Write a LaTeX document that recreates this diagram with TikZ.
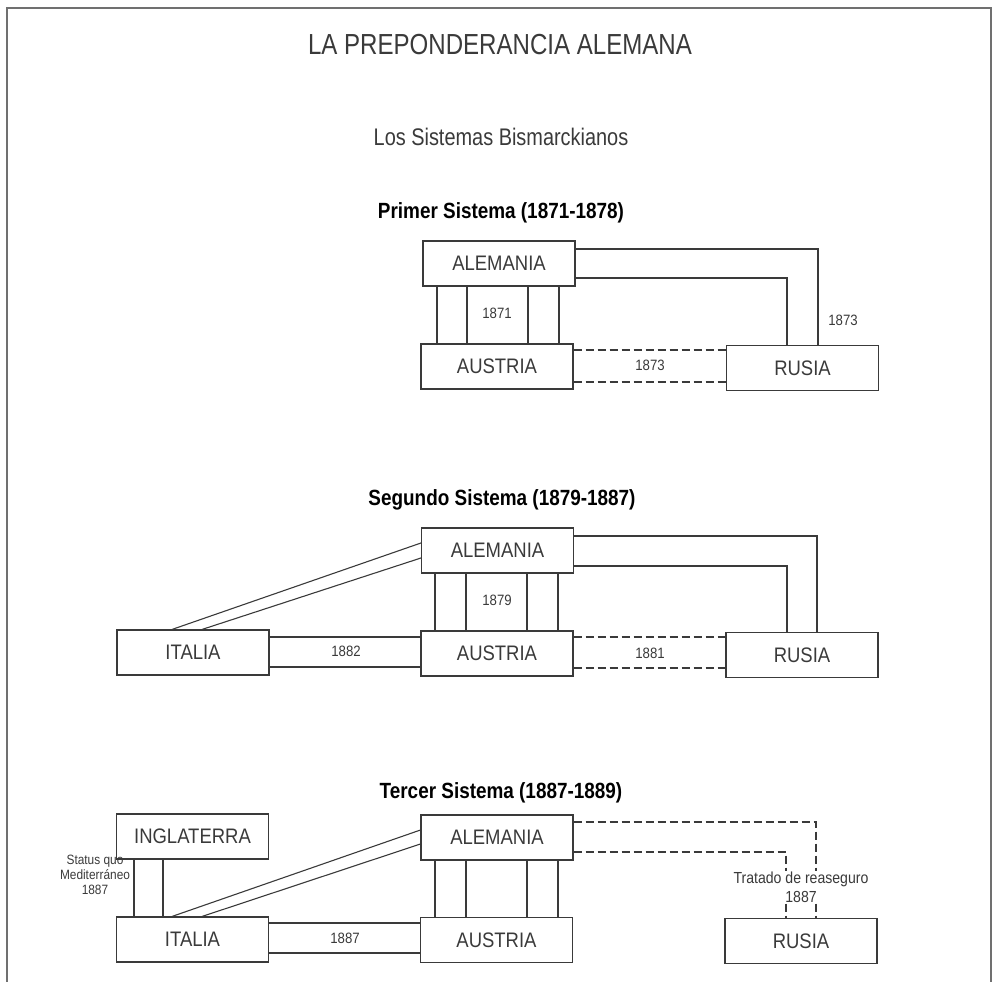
\documentclass[tikz,border=0pt]{standalone}
\usepackage{fontspec}
\setmainfont{Liberation Sans}[FakeStretch=0.86]
\newfontfamily\titlefont{Liberation Sans}[FakeStretch=0.83]
\newfontfamily\boxfont{Liberation Sans}[FakeStretch=0.88]
\definecolor{ink}{HTML}{3A3A3A}
\definecolor{framec}{HTML}{707070}
\begin{document}
\begin{tikzpicture}[x=1pt,y=-1pt,
  country/.style={draw=ink, line width=1.1pt, minimum width=152pt, minimum height=45pt, inner sep=0pt,
     text=ink, font=\boxfont\fontsize{21}{24}\selectfont},
  link/.style={draw=ink, line width=1.1pt},
  dlink/.style={draw=ink, line width=1.1pt, dash pattern=on 8pt off 4pt},
  yearlbl/.style={text=ink, inner sep=1pt, font=\boxfont\fontsize{15}{18}\selectfont},
  heading/.style={text=black, font=\bfseries\fontsize{22}{26}\selectfont}]
\useasboundingbox (0,0) rectangle (993,982);
% frame
\draw[framec, line width=1.6pt] (7,982) -- (7,8) -- (991,8) -- (991,982);
% titles
\node[text=ink, font=\titlefont\fontsize{29}{34}\selectfont] (title) at (500,45) {LA PREPONDERANCIA ALEMANA};
\node[text=ink, font=\titlefont\fontsize{24}{28}\selectfont] (subtitle) at (501,137) {Los Sistemas Bismarckianos};

% ---------- Primer sistema ----------
\node[heading] (h1) at (501,213) {Primer Sistema (1871-1878)};
\node[country] (al1) at (499,263.5) {ALEMANIA};
\node[country] (au1) at (497,366.5) {AUSTRIA};
\node[country] (ru1) at (802.5,368) {RUSIA};
\foreach \x in {437,467,528,559}
  \draw[link] (al1.south -| \x,0) -- (au1.north -| \x,0);
\node[yearlbl] (y1871) at (497,313) {1871};
\draw[link] (al1.east |- 0,249) -| (ru1.north -| 818,0);
\draw[link] (al1.east |- 0,278) -| (ru1.north -| 787,0);
\node[yearlbl] (y1873a) at (843,320) {1873};
\draw[dlink] (au1.east |- 0,350) -- (ru1.west |- 0,350);
\draw[dlink] (au1.east |- 0,382) -- (ru1.west |- 0,382);
\node[yearlbl] (y1873b) at (650,365) {1873};

% ---------- Segundo sistema ----------
\node[heading] (h2) at (502,500) {Segundo Sistema (1879-1887)};
\node[country] (al2) at (497.5,550.5) {ALEMANIA};
\node[country] (au2) at (497,653.5) {AUSTRIA};
\node[country] (ru2) at (802,655) {RUSIA};
\node[country] (it2) at (193,652.5) {ITALIA};
\foreach \x in {435,466,527,558}
  \draw[link] (al2.south -| \x,0) -- (au2.north -| \x,0);
\node[yearlbl] (y1879) at (497,600) {1879};
\draw[link] (al2.east |- 0,536) -| (ru2.north -| 817,0);
\draw[link] (al2.east |- 0,566) -| (ru2.north -| 787,0);
\draw[dlink] (au2.east |- 0,637) -- (ru2.west |- 0,637);
\draw[dlink] (au2.east |- 0,668) -- (ru2.west |- 0,668);
\node[yearlbl] (y1881) at (650,653) {1881};
\draw[link] (it2.east |- 0,637) -- (au2.west |- 0,637);
\draw[link] (it2.east |- 0,667) -- (au2.west |- 0,667);
\node[yearlbl] (y1882) at (346,651) {1882};
\draw[link] (it2.north -| 172,0) -- (al2.west |- 0,543);
\draw[link] (it2.north -| 202,0) -- (al2.west |- 0,558);

% ---------- Tercer sistema ----------
\node[heading] (h3) at (501,793) {Tercer Sistema (1887-1889)};
\node[country] (in3) at (192.5,836.5) {INGLATERRA};
\node[country] (it3) at (192.5,939.5) {ITALIA};
\node[country] (al3) at (497,837.5) {ALEMANIA};
\node[country] (au3) at (496.5,940) {AUSTRIA};
\node[country] (ru3) at (801,941) {RUSIA};
\draw[link] (in3.south -| 134,0) -- (it3.north -| 134,0);
\draw[link] (in3.south -| 163,0) -- (it3.north -| 163,0);
\node[yearlbl, align=center, font=\boxfont\fontsize{13.5}{15}\selectfont] (sq) at (95,875) {Status quo\\Mediterráneo\\1887};
\foreach \x in {435,466,527,558}
  \draw[link] (al3.south -| \x,0) -- (au3.north -| \x,0);
\draw[link] (it3.east |- 0,923) -- (au3.west |- 0,923);
\draw[link] (it3.east |- 0,953) -- (au3.west |- 0,953);
\node[yearlbl] (y1887) at (345,938) {1887};
\draw[link] (it3.north -| 172,0) -- (al3.west |- 0,830);
\draw[link] (it3.north -| 202,0) -- (al3.west |- 0,844);
\draw[dlink] (al3.east |- 0,822) -| (ru3.north -| 816,0);
\draw[dlink] (al3.east |- 0,852) -| (ru3.north -| 786,0);
\node[yearlbl, fill=white, align=center, inner sep=1pt, font=\boxfont\fontsize{16}{19}\selectfont] (tr) at (801,887) {Tratado de reaseguro\\1887};
\end{tikzpicture}
\end{document}
